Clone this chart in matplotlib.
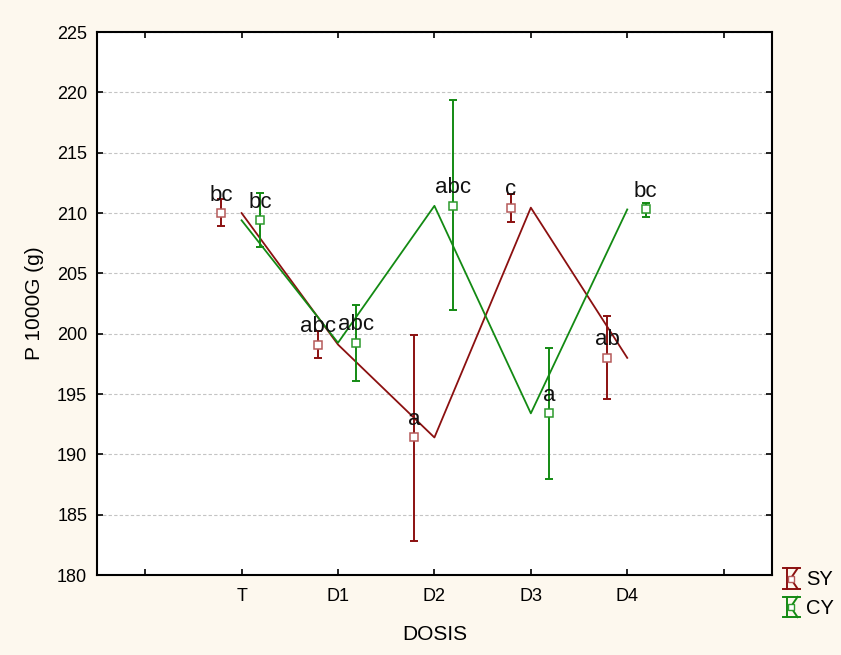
import matplotlib
matplotlib.use("Agg")
import matplotlib.pyplot as plt
from matplotlib.legend_handler import HandlerBase
from matplotlib.lines import Line2D
import numpy as np

plt.rcParams['font.family'] = ['Liberation Sans', 'DejaVu Sans']

# ---- data ----
categories = ["T", "D1", "D2", "D3", "D4"]
series_names = ["SY", "CY"]
sy_mean = [210.0, 199.1, 191.4, 210.45, 198.0]
sy_low = [208.9, 198.0, 182.8, 209.3, 194.55]
sy_high = [211.2, 200.2, 199.9, 211.6, 201.5]
cy_mean = [209.4, 199.25, 210.6, 193.4, 210.3]
cy_low = [207.2, 196.1, 202.0, 188.0, 209.7]
cy_high = [211.65, 202.35, 219.35, 198.85, 210.8]
sy_letters = ["bc", "abc", "a", "c", "ab"]
cy_letters = ["bc", "abc", "abc", "a", "bc"]
yticks = [180, 185, 190, 195, 200, 205, 210, 215, 220, 225]

SY_COL = "#8b1010"
SY_MK = "#b55a5a"
CY_COL = "#138a13"
CY_MK = "#2c9a2c"
BG = "#fdf8ee"

fig = plt.figure(figsize=(8.41, 6.55), dpi=100, facecolor=BG)
ax = fig.add_axes([0.1153, 0.1221, 0.8025, 0.8289])
ax.set_facecolor("white")

pos = np.arange(1, len(categories) + 1)
offsets = [-0.21, 0.19]
series = [
    (sy_mean, sy_low, sy_high, sy_letters, SY_COL, SY_MK),
    (cy_mean, cy_low, cy_high, cy_letters, CY_COL, CY_MK),
]

for (mean, low, high, letters, col, mk), off in zip(series, offsets):
    mean = np.array(mean); low = np.array(low); high = np.array(high)
    ax.plot(pos, mean, color=col, lw=1.3, zorder=3)
    xp = pos + off
    ax.errorbar(xp, mean, yerr=[mean - low, high - mean], fmt='none',
                ecolor=col, elinewidth=1.4, capsize=3, capthick=1.4, zorder=4)
    ax.plot(xp, mean, ls='none', marker='s', ms=5.5, mfc='white', mec=mk,
            mew=1.1, zorder=5)
    for x, y, t in zip(xp, mean, letters):
        ax.annotate(t, (x, y), xytext=(0, 9), textcoords='offset points',
                    ha='center', va='baseline', fontsize=16, color='#111111', zorder=6)

ax.set_xlim(-0.5, 6.5)
ax.set_ylim(180, 225)
ax.set_xticks(np.arange(0, 7))
ax.set_xticklabels([""] + categories + [""])
ax.set_yticks(yticks)
ax.yaxis.grid(True, ls=(0, (3, 2)), color="#c4c4c4", lw=0.8)
ax.set_axisbelow(True)

ax.tick_params(direction='in', length=4, width=1.2, top=True, right=True,
               labelsize=13, colors='black')
ax.tick_params(axis='y', pad=7)
ax.tick_params(axis='x', pad=9)
for s in ax.spines.values():
    s.set_linewidth(1.5)
    s.set_color('black')

ax.set_xlabel("DOSIS", fontsize=15, labelpad=15)
ax.set_ylabel("P 1000G (g)", fontsize=15, labelpad=9)


class HourglassHandler(HandlerBase):
    def create_artists(self, legend, orig_handle, xdescent, ydescent,
                       width, height, fontsize, trans):
        col = orig_handle.get_color()
        mk = orig_handle.get_markeredgecolor()
        x0 = -xdescent
        x1 = x0 + width
        yc = -ydescent + height / 2
        h = height * 0.95
        yt = yc + h / 2
        yb = yc - h / 2
        xl = x0 + width * 0.25
        xm = x0 + width * 0.45
        arts = []
        kw = dict(color=col, lw=1.4, transform=trans)
        arts.append(Line2D([x0, x1], [yt, yt], **kw))
        arts.append(Line2D([x0, x1], [yb, yb], **kw))
        arts.append(Line2D([xl, xl], [yt, yb], **kw))
        arts.append(Line2D([x1 - width * 0.15, xm], [yt, yc], **kw))
        arts.append(Line2D([xm, x1 - width * 0.15], [yc, yb], **kw))
        arts.append(Line2D([xm], [yc], marker='s', ms=5, mfc='white', mec=mk,
                           mew=1.0, ls='none', transform=trans))
        return arts


handles = [Line2D([], [], color=SY_COL, mec=SY_MK), Line2D([], [], color=CY_COL, mec=CY_MK)]
leg = fig.legend(handles, series_names, loc='upper left',
                 bbox_to_anchor=(0.931, 0.133), frameon=False, fontsize=14.5,
                 handler_map={Line2D: HourglassHandler()},
                 handlelength=0.85, handleheight=1.25, handletextpad=0.3,
                 labelspacing=0.35, borderpad=0.0, borderaxespad=0.0)

fig.savefig("out.png", dpi=100, facecolor=BG)
